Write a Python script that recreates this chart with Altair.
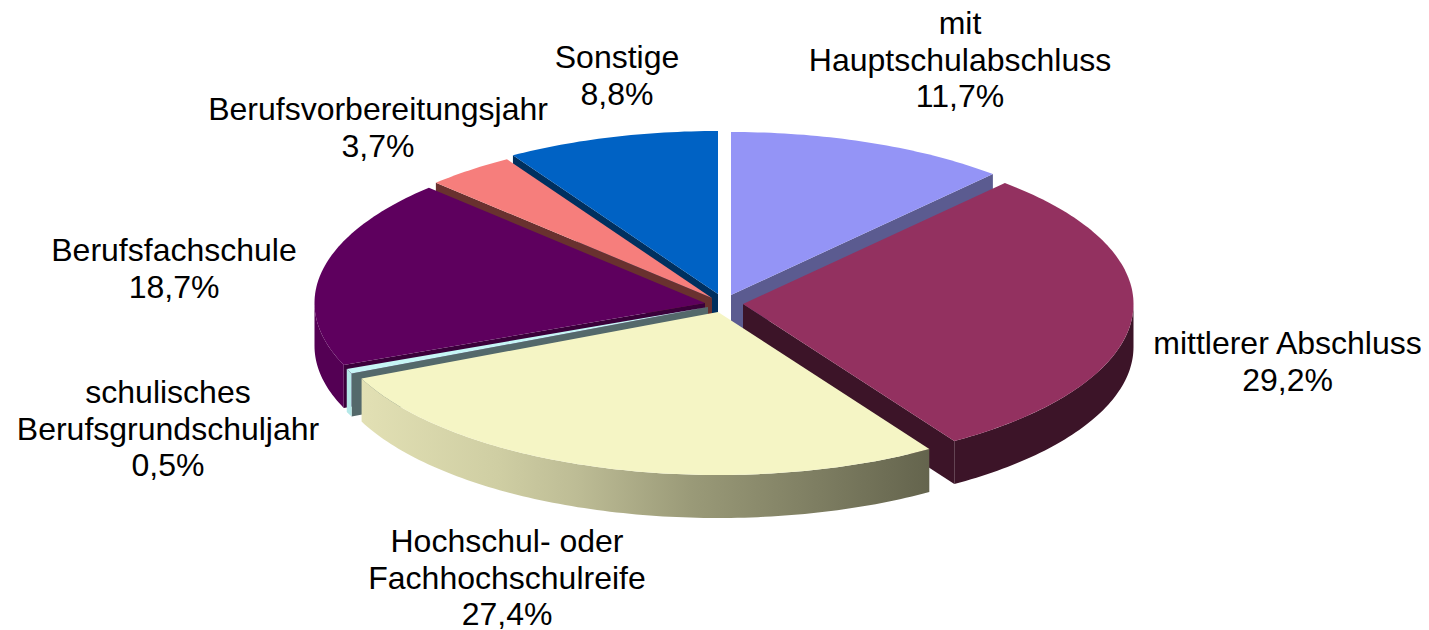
import math
import altair as alt

# ---- values ---------------------------------------------------------------
categories = ["mit Hauptschulabschluss", "mittlerer Abschluss",
              "Hochschul- oder Fachhochschulreife", "schulisches Berufsgrundschuljahr",
              "Berufsfachschule", "Berufsvorbereitungsjahr", "Sonstige"]
shares = [11.7, 29.2, 27.4, 0.5, 18.7, 3.7, 8.8]
label_lines = ["mit\nHauptschulabschluss", "mittlerer Abschluss",
               "Hochschul- oder\nFachhochschulreife", "schulisches\nBerufsgrundschuljahr",
               "Berufsfachschule", "Berufsvorbereitungsjahr", "Sonstige"]
share_text = ["11,7%", "29,2%", "27,4%", "0,5%", "18,7%", "3,7%", "8,8%"]

# ---- styles ---------------------------------------------------------------
top_colors = ["#9494F6", "#933160", "#F5F5C5", "#C6F6F6", "#5E005E", "#F67E7C", "#0062C4"]
wall_colors = ["#5B5B90", "#3C1428", "#BDBC95", "#B4E8E8", "#540054", "#69312F", "#00305F"]
cut_colors = ["#5B5B90", "#3C1428", "#66664F", "#54696B", "#3A003A", "#69312F", "#00305F"]

# ---- layout (chart pixels) -------------------------------------------------
ORIGIN = 8
RX, RY, DEPTH = 390.5, 163, 43
apex_x = [731, 743, 718, 708, 705, 712, 718]
apex_y = [295, 304, 312, 307, 303, 298, 294]
label_x = [960, 1287.5, 507, 168, 174, 378, 617]
label_y = [24, 344, 542, 393, 251, 110, 58]   # centre of each label's first line
# slices are painted from the back of the pie to the front
paint_order = [0, 6, 5, 4, 3, 1]
FRONT = 2


def rim(i, deg):
    a = math.radians(deg)
    return (apex_x[i] - ORIGIN + RX * math.sin(a), apex_y[i] - ORIGIN - RY * math.cos(a))


def arc(i, a, b):
    n = max(2, int(abs(b - a)) + 2)
    return [rim(i, a + (b - a) * k / (n - 1)) for k in range(n)]


def feature(points, fill):
    ring = [list(p) for p in points]
    ring.append(ring[0])
    return {"type": "Feature", "properties": {"fill": fill},
            "geometry": {"type": "Polygon", "coordinates": [ring]}}


def extrude(points):
    return points + [(x, y + DEPTH) for x, y in reversed(points)]


start = []
total = 0.0
for s in shares:
    start.append(total)
    total += s
span = [(st * 3.6, (st + s) * 3.6) for st, s in zip(start, shares)]


def slice_top(i):
    a, b = span[i]
    return feature([(apex_x[i] - ORIGIN, apex_y[i] - ORIGIN)] + arc(i, a, b), top_colors[i])


def cut_face(i, deg):
    o = (apex_x[i] - ORIGIN, apex_y[i] - ORIGIN)
    return feature(extrude([o, rim(i, deg)]), cut_colors[i])


def wall_range(i):
    a, b = span[i]
    lo, hi = max(a, 90), min(b, 270)
    return (lo, hi) if lo < hi else None


features = []
for i in paint_order:
    a, b = span[i]
    if math.sin(math.radians(a)) < -1e-9:
        features.append(cut_face(i, a))
    if math.sin(math.radians(b)) > 1e-9:
        features.append(cut_face(i, b))
    w = wall_range(i)
    if w:
        features.append(feature(extrude(arc(i, w[0], w[1])), wall_colors[i]))
    features.append(slice_top(i))

projection = alt.Projection(type="identity", scale=1, translate=[0, 0])

back = alt.Chart(alt.Data(values=features)).mark_geoshape(strokeWidth=0).encode(
    fill=alt.Fill("properties.fill:N", scale=None)
).project(**projection.to_dict())

w = wall_range(FRONT)
front_wall = alt.Chart(alt.Data(values=[feature(extrude(arc(FRONT, w[0], w[1])), "#000000")])).mark_geoshape(
    strokeWidth=0,
    fill={"gradient": "linear", "x1": 1, "x2": 0, "y1": 0, "y2": 0,
          "stops": [{"offset": 0, "color": "#64644D"},
                    {"offset": 0.2, "color": "#7E7E62"},
                    {"offset": 0.42, "color": "#9A9A78"},
                    {"offset": 0.62, "color": "#BDBC95"},
                    {"offset": 0.76, "color": "#CFCEA3"},
                    {"offset": 1, "color": "#E2E0B4"}]},
).project(**projection.to_dict())

front_top = alt.Chart(alt.Data(values=[slice_top(FRONT)])).mark_geoshape(strokeWidth=0).encode(
    fill=alt.Fill("properties.fill:N", scale=None)
).project(**projection.to_dict())

rows = [{"category": c, "share": s, "label": l + "\n" + t, "lx": x - ORIGIN, "ly": y - ORIGIN}
        for c, s, l, t, x, y in zip(categories, shares, label_lines, share_text, label_x, label_y)]

labels = alt.Chart(alt.Data(values=rows)).mark_text(
    font="Liberation Sans", fontSize=32, lineBreak="\n", lineHeight=36.5,
    align="center", baseline="middle", color="#000000",
).encode(
    x=alt.X("lx:Q", scale=None, axis=None),
    y=alt.Y("ly:Q", scale=None, axis=None),
    text="label:N",
)

chart = alt.layer(back, front_wall, front_top, labels).properties(
    width=1413, height=622, padding=0, background="white",
    view=alt.ViewConfig(stroke=None),
    autosize=alt.AutoSizeParams(type="none"),
)

chart.save("out.html", embed_options={"renderer": "svg", "actions": False})
